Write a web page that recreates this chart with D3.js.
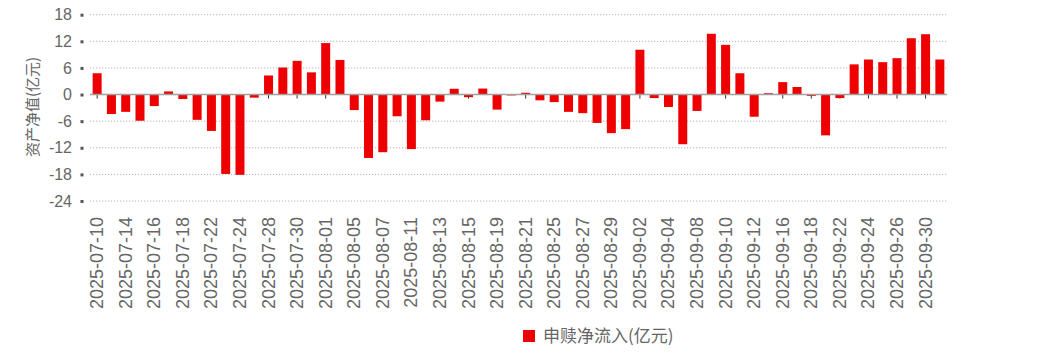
<!DOCTYPE html>
<html lang="zh">
<head>
<meta charset="UTF-8">
<script src="https://d3js.org/d3.v7.min.js"></script>
<style>
    body{ margin:0; background:#fff; }
    text{ font-family: "Liberation Sans", Arial, sans-serif; fill:#666; }
    .cjk{ font-family: "Noto Sans CJK SC", sans-serif; }
</style>
</head>
<body>
<div class="canvas"></div>
<script>
    // trading days (label shown on every other one)
    const dates = [
        '2025-07-10','2025-07-11','2025-07-14','2025-07-15','2025-07-16','2025-07-17','2025-07-18','2025-07-21',
        '2025-07-22','2025-07-23','2025-07-24','2025-07-25','2025-07-28','2025-07-29','2025-07-30','2025-07-31',
        '2025-08-01','2025-08-04','2025-08-05','2025-08-06','2025-08-07','2025-08-08','2025-08-11','2025-08-12',
        '2025-08-13','2025-08-14','2025-08-15','2025-08-18','2025-08-19','2025-08-20','2025-08-21','2025-08-22',
        '2025-08-25','2025-08-26','2025-08-27','2025-08-28','2025-08-29','2025-09-01','2025-09-02','2025-09-03',
        '2025-09-04','2025-09-05','2025-09-08','2025-09-09','2025-09-10','2025-09-11','2025-09-12','2025-09-15',
        '2025-09-16','2025-09-17','2025-09-18','2025-09-19','2025-09-22','2025-09-23','2025-09-24','2025-09-25',
        '2025-09-26','2025-09-29','2025-09-30','2025-10-09'
    ];
    // 申赎净流入(亿元)
    const netFlow = [
        4.8, -4.4, -3.9, -5.9, -2.6, 0.7, -1.0, -5.7,
        -8.2, -17.9, -18.1, -0.7, 4.3, 6.1, 7.6, 5.0,
        11.6, 7.8, -3.5, -14.3, -13.0, -4.9, -12.3, -5.8,
        -1.6, 1.3, -0.6, 1.35, -3.4, -0.2, 0.4, -1.3,
        -1.7, -3.9, -4.2, -6.4, -8.7, -7.8, 10.1, -0.8,
        -2.8, -11.2, -3.7, 13.7, 11.2, 4.8, -5.0, 0.3,
        2.8, 1.7, -0.3, -9.2, -0.8, 6.8, 7.9, 7.3,
        8.2, 12.7, 13.6, 7.9
    ];
    const yTicks = [18, 12, 6, 0, -6, -12, -18, -24];
    const yTitle = '资产净值(亿元)';
    const seriesName = '申赎净流入(亿元)';

    const width = 1041;
    const height = 353;
    const [mt, mr, mb, ml] = [14.7, 94, 152, 90];
    const graphWidth = width - ml - mr;
    const graphHeight = height - mt - mb;

    const svg = d3.select('.canvas')
                  .append('svg')
                  .attr('width', width)
                  .attr('height', height);
    const graph = svg.append('g')
                     .attr('transform', `translate(${ml},${mt})`);

    const x = d3.scaleBand()
                .domain(dates)
                .range([0, graphWidth])
                .paddingInner(0.37)
                .paddingOuter(0.185);
    const y = d3.scaleLinear()
                .domain([-24, 18])
                .range([graphHeight, 0]);

    // dotted grid
    graph.append('g')
         .selectAll('line')
         .data(yTicks.filter(d => d !== 0))
         .join('line')
         .attr('x1', 0).attr('x2', graphWidth)
         .attr('y1', d => y(d)).attr('y2', d => y(d))
         .attr('stroke', '#b4b4b4')
         .attr('stroke-width', 1)
         .attr('stroke-dasharray', '1.2,1.8');

    // y axis: labels + small square markers
    const yAxisG = graph.append('g').attr('transform', 'translate(-8,0)');
    yAxisG.call(d3.axisLeft(y).tickValues(yTicks).tickSize(0).tickPadding(10).tickFormat(d => String(d)));
    yAxisG.select('.domain').remove();
    yAxisG.selectAll('text')
          .style('font-size', '16px')
          .attr('fill', '#606060');
    yAxisG.selectAll('.tick')
          .append('rect')
          .attr('x', -1.5).attr('y', -1.5)
          .attr('width', 3).attr('height', 3)
          .attr('fill', '#555');

    // x axis on zero line, ticks on every other band
    const xTickVals = dates.filter((d, i) => i % 2 === 0);
    const tickG = graph.append('g').attr('transform', `translate(0,${y(0)})`);
    tickG.call(d3.axisBottom(x).tickValues(xTickVals).tickSize(4).tickFormat(''));
    tickG.select('.domain').remove();
    tickG.selectAll('line').attr('stroke', '#333');

    // bars
    graph.append('g')
         .selectAll('rect')
         .data(netFlow)
         .join('rect')
         .attr('x', (d, i) => x(dates[i]))
         .attr('width', x.bandwidth())
         .attr('y', d => y(Math.max(0, d)))
         .attr('height', d => Math.abs(y(d) - y(0)))
         .attr('fill', '#ee0000');

    // zero line
    graph.append('line')
         .attr('x1', 0).attr('x2', graphWidth)
         .attr('y1', y(0)).attr('y2', y(0))
         .attr('stroke', '#a0a0a0')
         .attr('stroke-width', 1.5);

    // rotated date labels
    const labelG = graph.append('g').attr('transform', `translate(0,${graphHeight})`);
    labelG.selectAll('text')
          .data(xTickVals)
          .join('text')
          .attr('transform', d => `translate(${x(d) + x.bandwidth() / 2 + 6},16) rotate(-90)`)
          .attr('text-anchor', 'end')
          .style('font-size', '18px')
          .attr('fill', '#666')
          .text(d => d);

    // y title
    svg.append('text')
       .attr('class', 'cjk')
       .attr('transform', 'translate(38,107) rotate(-90)')
       .attr('text-anchor', 'middle')
       .style('font-size', '15px')
       .attr('fill', '#777')
       .text(yTitle);

    // legend
    const legend = svg.append('g').attr('transform', 'translate(523,330)');
    legend.append('rect')
          .attr('width', 12).attr('height', 12)
          .attr('fill', '#ee0000');
    legend.append('text')
          .attr('class', 'cjk')
          .attr('x', 20).attr('y', 12)
          .style('font-size', '17px')
          .attr('fill', '#333')
          .text(seriesName);
</script>
</body>
</html>
